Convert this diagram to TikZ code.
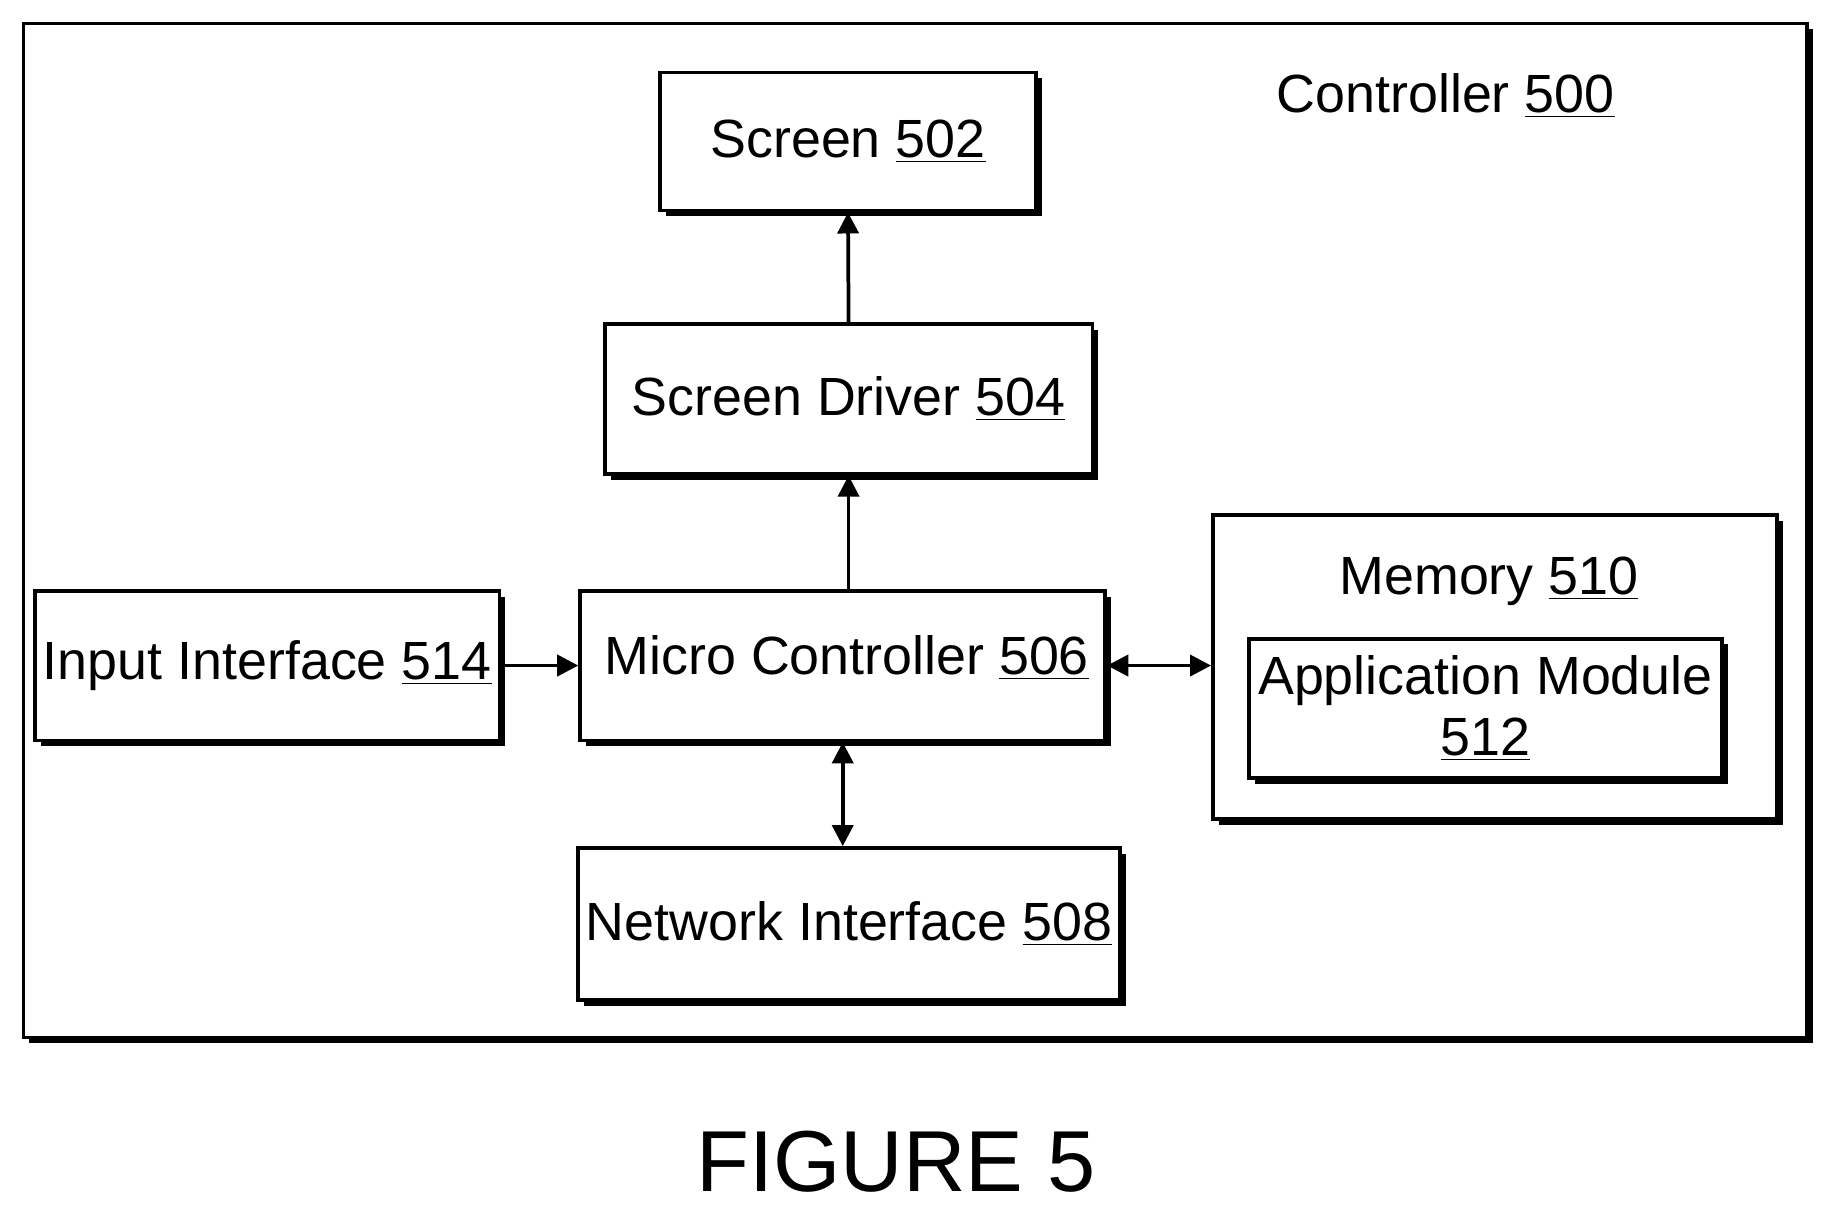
\documentclass[tikz,border=0pt]{standalone}
\usepackage{fontspec}
\setmainfont{Liberation Sans}
\usetikzlibrary{shadows,arrows.meta}
\begin{document}
\begin{tikzpicture}[x=0.5pt,y=-0.5pt,
 box/.style={draw,line width=1.6pt,fill=white,align=center,font=\fontsize{23}{27}\selectfont,
   drop shadow={shadow xshift=2.5pt,shadow yshift=-2.5pt,fill=black,opacity=1}},
 arr/.style={line width=1.6pt,-{Triangle[length=9pt,width=9pt]}},
 darr/.style={line width=1.6pt,{Triangle[length=9pt,width=9pt]}-{Triangle[length=9pt,width=9pt]}}]
\useasboundingbox (0,0) rectangle (1568,1034);
\node[box,minimum width=762.5pt,minimum height=433.5pt] (outer) at (782.5,453.5) {};
\node[font=\fontsize{23}{27}\selectfont] (ctl) at (1236,82) {Controller \underline{500}};
\node[box,minimum width=160.5pt,minimum height=59pt] (screen) at (725,121) {Screen \underline{502}};
\node[box,minimum width=208.5pt,minimum height=64pt] (driver) at (725.5,341) {Screen Driver \underline{504}};
\node[box,minimum width=224.5pt,minimum height=64pt] (micro) at (720.5,569) {};
\node[font=\fontsize{23}{27}\selectfont] (microt) at (724,562) {Micro Controller \underline{506}};
\node[box,minimum width=197.5pt,minimum height=64pt] (input) at (228.5,569) {Input Interface \underline{514}};
\node[box,minimum width=225pt,minimum height=65pt] (net) at (726,790) {Network Interface \underline{508}};
\node[box,minimum width=241pt,minimum height=130pt] (mem) at (1278,570) {};
\node[font=\fontsize{23}{27}\selectfont] (memt) at (1273,497) {Memory \underline{510}};
\node[box,minimum width=202pt,minimum height=59.5pt,font=\fontsize{23}{26}\selectfont] (app) at (1270,605.5) {Application Module\\\underline{512}};
\draw[arr] (driver.north) -- (screen.south);
\draw[arr] (micro.north -| driver.south) -- (driver.south);
\draw[arr] (input.east) -- (micro.west);
\draw[darr] (micro.east) -- (mem.west |- micro.east);
\draw[darr] (micro.south) -- (net.north -| micro.south);
\node[font=\fontsize{37}{40}\selectfont] (fig) at (766,993) {FIGURE 5};
\end{tikzpicture}
\end{document}
